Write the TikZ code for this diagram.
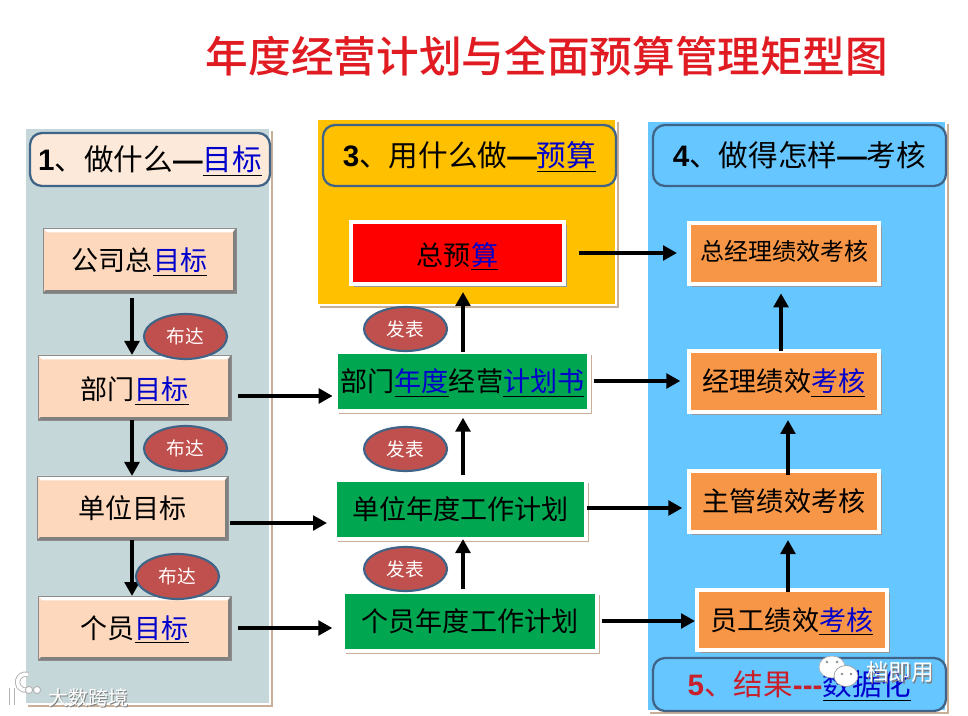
\documentclass[tikz,border=0pt]{standalone}
\usepackage{fontspec}
\setmainfont{Noto Sans CJK SC}
\newfontfamily\latinb{Liberation Sans}[BoldFont={Liberation Sans Bold}]
\newfontfamily\titlefont{Noto Sans CJK SC Medium}
\usetikzlibrary{shapes.geometric,shadows,arrows.meta}
\definecolor{pgrey}{HTML}{C5D7D9}
\definecolor{pyellow}{HTML}{FFC000}
\definecolor{pblue}{HTML}{66C6FF}
\definecolor{peach}{HTML}{FDE9D9}
\definecolor{bevelfill}{HTML}{FDD8BC}
\definecolor{frameblue}{HTML}{3F6487}
\definecolor{tanshadow}{HTML}{C9AE98}
\definecolor{ovalred}{HTML}{C0504D}
\definecolor{boxgreen}{HTML}{00A650}
\definecolor{boxorange}{HTML}{F79646}
\definecolor{linkblue}{HTML}{0000CC}
\definecolor{titlered}{HTML}{E01B22}
\definecolor{resultred}{HTML}{C8202A}
\newcommand{\lk}[1]{\underline{\textcolor{linkblue}{#1}}}
\newcommand{\lb}[1]{{\latinb\bfseries #1}}
\newcommand{\dn}[1]{\raisebox{-1.5pt}{#1}}
\newcommand{\wm}[1]{\rlap{\raisebox{-1pt}{\kern1pt\textcolor{black!50}{#1}}}\textcolor{white}{#1}}
\newcommand{\bx}[7]{\node[#1,minimum width={(#5-#3)*0.75pt},minimum height={(#6-#4)*0.75pt}] (#2) at ({(#3+#5)/2},{(#4+#6)/2}) {#7};}
\tikzset{
  x=0.75pt,y=-0.75pt,
  every node/.style={inner sep=0pt,outer sep=0pt,text height=17.9pt,text depth=2.4pt,font=\fontsize{20.3}{24}\selectfont},
  panel/.style={rectangle,draw=white,line width=2.2pt,general shadow={fill=tanshadow,shadow xshift=2.2pt,shadow yshift=-2.2pt}},
  headbox/.style={rectangle,rounded corners=9pt,draw=frameblue,line width=1.7pt,text height=19.5pt,text depth=2.7pt,font=\fontsize{22.2}{26}\selectfont},
  bevelbox/.style={rectangle,fill=bevelfill,draw=black!45,line width=0.5pt,path picture={
    \fill[white] (path picture bounding box.north west) -- (path picture bounding box.north east) -- ([xshift=-3pt,yshift=-3.2pt]path picture bounding box.north east) -- ([xshift=3pt,yshift=-3.2pt]path picture bounding box.north west) -- cycle;
    \fill[black!50] (path picture bounding box.north east) -- (path picture bounding box.south east) -- ([xshift=-2.2pt,yshift=2.2pt]path picture bounding box.south east) -- ([xshift=-2.2pt,yshift=-3.2pt]path picture bounding box.north east) -- cycle;
    \fill[black!50] (path picture bounding box.south west) -- (path picture bounding box.south east) -- ([xshift=-2.2pt,yshift=2.2pt]path picture bounding box.south east) -- ([xshift=2.2pt,yshift=2.2pt]path picture bounding box.south west) -- cycle;
  }},
  planbox/.style={rectangle,draw=white,line width=2.6pt,general shadow={fill=black!40,shadow xshift=2.4pt,shadow yshift=-2.4pt}},
  redbox/.style={planbox,fill=red},
  greenbox/.style={planbox,fill=boxgreen,general shadow={fill=tanshadow,shadow xshift=2.4pt,shadow yshift=-2.4pt}},
  orangebox/.style={planbox,fill=boxorange},
  oval/.style={ellipse,fill=ovalred,draw=frameblue,line width=1.6pt,text=white,text height=12.3pt,text depth=1.7pt,font=\fontsize{14}{16}\selectfont},
  arr/.style={draw=black,line width=3.7pt,-{Triangle[length=10.5pt,width=11pt]}},
}
\begin{document}
\begin{tikzpicture}
\useasboundingbox[fill=white] (0,0) rectangle (968,716);
\node[text height=28.2pt,text depth=3.8pt,font=\titlefont\fontsize{32}{38}\selectfont,text=titlered] (title) at (547,56) {年度经营计划与全面预算管理矩型图};

% panels
\bx{panel,fill=pgrey}{p1}{25}{128}{270}{704}{}
\bx{panel,fill=pyellow}{p3}{317}{119}{616}{305}{}
\bx{panel,fill=pblue}{p4}{647}{121}{946}{711}{}

% headers
\bx{headbox,fill=peach}{h1}{30}{133}{270}{186}{\lb{1}、做什么\lb{—}\lk{目标}}
\bx{headbox,fill=pyellow}{h3}{323}{125}{616}{186}{\lb{3}、用什么做\lb{—}\lk{预算}}
\bx{headbox,fill=pblue}{h4}{653}{125}{946}{186}{\lb{4}、做得怎样\lb{—}考核}
\bx{headbox,fill=pblue}{h5}{653}{658}{946}{711}{\textcolor{resultred}{\lb{5}、结果\lb{-{}-{}-}}\lk{数据化}}

% goals
\bx{bevelbox}{g1}{43}{228}{236}{293}{公司总\lk{目标}}
\bx{bevelbox}{g2}{38}{355}{231}{420}{\dn{部门\lk{目标}}}
\bx{bevelbox}{g3}{37}{476}{228}{540}{单位目标}
\bx{bevelbox}{g4}{38}{596}{231}{660}{个员\lk{目标}}

% plans
\bx{redbox}{b1}{351}{222}{564}{284}{\dn{总预\lk{算}}}
\bx{greenbox}{b2}{336}{352}{589}{411}{部门\lk{年度}经营\lk{计划书}}
\bx{greenbox}{b3}{335}{480}{586}{539}{单位年度工作计划}
\bx{greenbox}{b4}{343}{592}{597}{651}{个员年度工作计划}

% appraisals
\bx{orangebox}{a1}{689}{223}{879}{284}{\raisebox{2.5pt}{\fontsize{18}{22}\selectfont 总经理绩效考核}}
\bx{orangebox}{a2}{689}{351}{879}{412}{经理绩效\lk{考核}}
\bx{orangebox}{a3}{689}{471}{879}{532}{主管绩效考核}
\bx{orangebox}{a4}{697}{590}{887}{650}{员工绩效\lk{考核}}

% vertical arrows
\draw[arr] ([yshift=-4pt]132,0 |- g1.south) -- (132,0 |- g2.north);
\draw[arr] (132,0 |- g2.south) -- (132,0 |- g3.north);
\draw[arr] (132,0 |- g3.south) -- (132,0 |- g4.north);
\draw[arr] (463,0 |- b2.north) -- ([yshift=-6pt]463,0 |- b1.south);
\draw[arr] ([yshift=3.5pt]463,0 |- b3.north) -- ([yshift=-5pt]463,0 |- b2.south);
\draw[arr] ([yshift=2pt]463,0 |- b4.north) -- (463,0 |- b3.south);
\draw[arr] (781,0 |- a2.north) -- ([yshift=-7pt]781,0 |- a1.south);
\draw[arr] ([yshift=-3pt]788,0 |- a3.north) -- ([yshift=-6pt]788,0 |- a2.south);
\draw[arr] ([yshift=-1.5pt]788,0 |- a4.north) -- ([yshift=-6pt]788,0 |- a3.south);

% horizontal arrows
\draw[arr] ([xshift=5pt]g2.east |- 0,396) -- ([xshift=-2.5pt]b2.west |- 0,396);
\draw[arr] ([xshift=1.5pt]g3.east |- 0,523) -- ([xshift=-6pt]b3.west |- 0,523);
\draw[arr] ([xshift=5pt]g4.east |- 0,628) -- ([xshift=-8pt]b4.west |- 0,628);
\draw[arr] ([xshift=11pt]b1.east |- 0,253) -- ([xshift=-9pt]a1.west |- 0,253);
\draw[arr] ([xshift=3.5pt]b2.east |- 0,381) -- ([xshift=-6.5pt]a2.west |- 0,381);
\draw[arr] ([xshift=1pt]b3.east |- 0,508) -- ([xshift=-5pt]a3.west |- 0,508);
\draw[arr] ([xshift=3.5pt]b4.east |- 0,621) -- ([xshift=-1.5pt]a4.west |- 0,621);

% ovals
\bx{oval}{o1}{144}{314}{227}{359}{布达}
\bx{oval}{o2}{144}{426}{227}{471}{布达}
\bx{oval}{o3}{136}{554}{219}{599}{布达}
\bx{oval}{o4}{364}{307}{447}{351}{发表}
\bx{oval}{o5}{364}{427}{447}{471}{发表}
\bx{oval}{o6}{364}{547}{447}{591}{发表}

% watermarks
\draw[fill=white,draw=black!30,line width=0.5pt] (832,667) ellipse [x radius=13,y radius=11];
\draw[fill=white,draw=black!40,line width=0.5pt] (846,676) ellipse [x radius=12,y radius=10.5];
\fill[black!45] (827,662) circle (1.4) (837,662) circle (1.4) (842,674) circle (1.3) (851,674) circle (1.3);
\draw[black!30,line width=4pt] (12,688) -- (12,705);
\draw[black!30,line width=4pt] (27,690) arc (80:290:8);
\draw[white,line width=2.6pt] (12,688) -- (12,705);
\draw[white,line width=2.6pt] (27,690) arc (80:290:8);
\draw[black!30,fill=white,line width=0.7pt] (29,690) circle (3.6) (37,690) circle (3.6);
\node[text height=15pt,text depth=2pt,font=\fontsize{17}{20}\selectfont] (wm1) at (900,672) {\wm{档即用}};
\node[text height=13.2pt,text depth=1.8pt,font=\fontsize{15}{18}\selectfont] (wm2) at (88,698) {\wm{大数跨境}};
\end{tikzpicture}
\end{document}
